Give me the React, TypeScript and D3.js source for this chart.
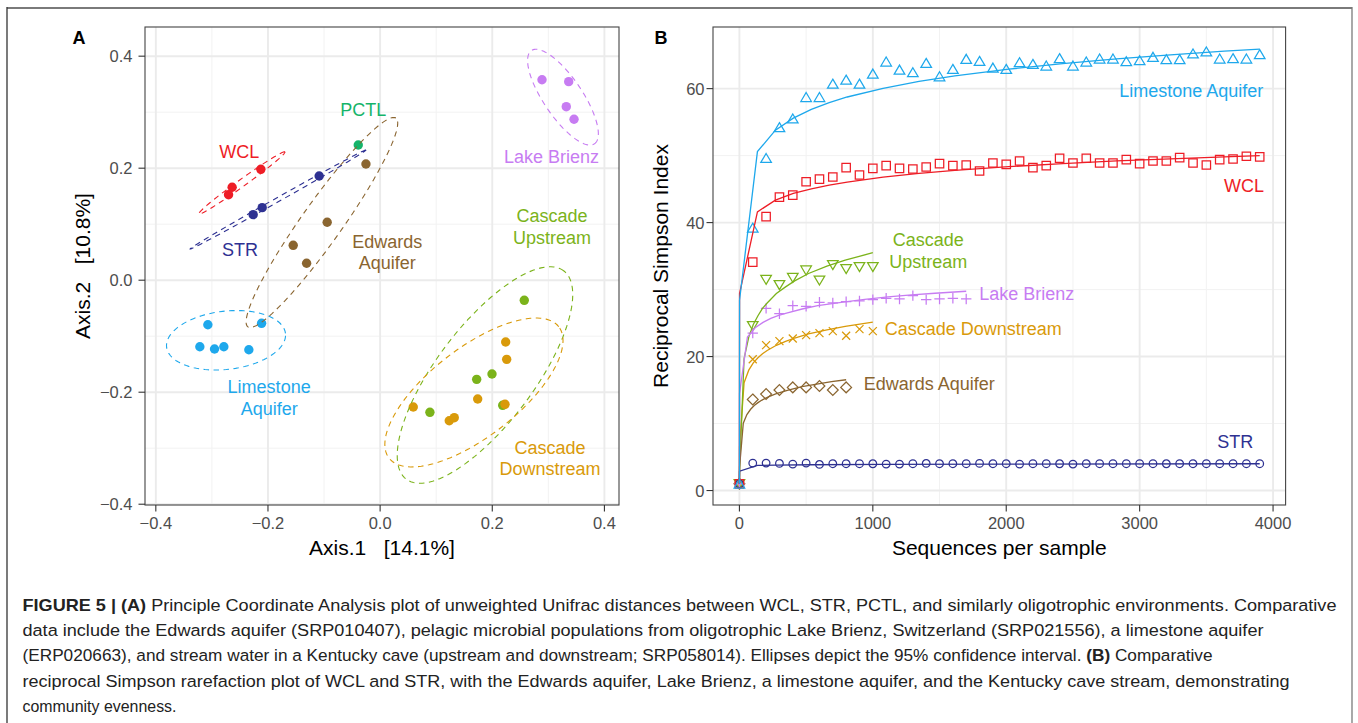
import React from 'react';
import * as d3 from 'd3';

// ---------------- Panel A: PCoA data ----------------
const groupsA = ['Limestone Aquifer', 'Edwards Aquifer', 'WCL', 'STR', 'PCTL', 'Lake Brienz', 'Cascade Upstream', 'Cascade Downstream'];
const colorsA = ['#1EA8EC', '#8A6530', '#EE1D26', '#2E3192', '#14B46A', '#C77CF2', '#7BB31A', '#D99A0A'];

const limestoneX = [-0.3072, -0.2114, -0.3215, -0.2953, -0.2787, -0.2341];
const limestoneY = [-0.0795, -0.077, -0.1188, -0.1229, -0.1188, -0.1241];
const edwardsX = [-0.0253, -0.0944, -0.155, -0.1311];
const edwardsY = [0.2075, 0.1034, 0.0623, 0.0302];
const wclX = [-0.2127, -0.2639, -0.2703];
const wclY = [0.198, 0.1659, 0.1527];
const strX = [-0.1087, -0.2103, -0.2264];
const strY = [0.1861, 0.1295, 0.117];
const pctlX = [-0.039];
const pctlY = [0.2414];
const brienzX = [0.2887, 0.3363, 0.332, 0.3458];
const brienzY = [0.358, 0.3545, 0.3098, 0.2873];
const upX = [0.2571, 0.1722, 0.1995, 0.0888, 0.2186];
const upY = [-0.0359, -0.177, -0.1675, -0.2359, -0.2234];
const downX = [0.2239, 0.2257, 0.174, 0.0591, 0.1233, 0.1322, 0.2227];
const downY = [-0.1104, -0.1413, -0.2121, -0.2264, -0.2509, -0.2455, -0.2216];
const pointsXA = [limestoneX, edwardsX, wclX, strX, pctlX, brienzX, upX, downX];
const pointsYA = [limestoneY, edwardsY, wclY, strY, pctlY, brienzY, upY, downY];

// 95% ellipses (centre, semi-axes, rotation in degrees)
const ellGroups = ['Limestone Aquifer', 'Edwards Aquifer', 'WCL', 'STR', 'Lake Brienz', 'Cascade Upstream', 'Cascade Downstream'];
const ellColors = ['#1EA8EC', '#8A6530', '#EE1D26', '#2E3192', '#C77CF2', '#7BB31A', '#D99A0A'];
const ellCx = [-0.2748, -0.1038, -0.2466, -0.182, 0.3261, 0.187, 0.1673];
const ellCy = [-0.1073, 0.103, 0.1736, 0.1441, 0.3268, -0.1693, -0.2005];
const ellA = [0.1067, 0.2284, 0.0946, 0.18, 0.1005, 0.2331, 0.1915];
const ellB = [0.052, 0.036, 0.0065, 0.0037, 0.0346, 0.0869, 0.0791];
const ellAngle = [6.6, 54.7, 35.8, 29.4, -56, 53, 37.8];

// labels in panel A
const labelTextA = [['WCL'], ['PCTL'], ['STR'], ['Edwards', 'Aquifer'], ['Lake Brienz'], ['Cascade', 'Upstream'], ['Limestone', 'Aquifer'], ['Cascade', 'Downstream']];
const labelColA = ['#EE1D26', '#14B46A', '#2E3192', '#8A6530', '#C77CF2', '#7BB31A', '#1EA8EC', '#D99A0A'];
const labelXA = [-0.2514, -0.0302, -0.2501, 0.0127, 0.3058, 0.3065, -0.1979, 0.3029];
const labelYA = [0.2284, 0.3039, 0.0539, 0.0495, 0.2205, 0.095, -0.2104, -0.3184];

const majorA = [-0.4, -0.2, 0, 0.2, 0.4];
const minorA = [-0.3, -0.1, 0.1, 0.3];

// ---------------- Panel B: rarefaction data ----------------
const depth = [0, 100, 200, 300, 400, 500, 600, 700, 800, 900, 1000, 1100, 1200, 1300, 1400, 1500, 1600, 1700, 1800, 1900,
  2000, 2100, 2200, 2300, 2400, 2500, 2600, 2700, 2800, 2900, 3000, 3100, 3200, 3300, 3400, 3500, 3600, 3700, 3800, 3900];
const limestoneB = [1, 39.2, 49.6, 54.2, 55.5, 58.7, 58.7, 60.7, 61.3, 60.7, 62.2, 64.0, 62.8, 62.4, 63.8, 61.8, 62.9, 64.4, 64.1, 63.1,
  62.9, 63.9, 63.65, 63.4, 64.5, 63.4, 64.0, 64.45, 64.45, 64.05, 64.2, 64.7, 64.35, 64.35, 65.2, 65.5, 64.45, 64.5, 64.45, 65.1];
const wclB = [1, 34.1, 40.9, 43.8, 44.1, 46.1, 46.5, 46.8, 48.2, 47.1, 48.1, 48.5, 48.1, 48.0, 48.3, 48.8, 48.5, 48.6, 47.7, 48.9,
  48.7, 49.2, 48.2, 48.5, 49.6, 48.9, 49.6, 48.9, 48.9, 49.4, 48.8, 49.2, 49.2, 49.7, 48.9, 48.6, 49.4, 49.5, 49.9, 49.8];
const strB = [1, 4.1, 4.1, 4.05, 3.95, 4.1, 3.9, 4.0, 4.0, 4.0, 4.0, 3.95, 3.95, 4.0, 4.05, 4.0, 4.0, 4.0, 4.05, 4.0,
  4.0, 3.95, 4.0, 4.0, 4.0, 3.95, 4.0, 4.0, 4.0, 4.0, 4.0, 4.0, 4.0, 4.0, 4.0, 4.0, 4.0, 4.0, 4.0, 4.0];
const cascadeUpB = [1, 24.6, 31.5, 30.7, 31.8, 32.9, 31.4, 33.7, 33.1, 33.4, 33.4];
const brienzB = [1, 23.5, 27.2, 26.4, 27.6, 27.5, 28.1, 28.0, 28.2, 28.3, 28.5, 28.7, 28.6, 29.1, 28.5, 28.6, 28.7, 28.6];
const cascadeDownB = [1, 19.6, 21.7, 22.3, 22.7, 23.2, 23.5, 23.8, 23.1, 24.1, 23.8];
const edwardsB = [1, 13.6, 14.4, 15.0, 15.4, 15.4, 15.6, 15.0, 15.4];

// fitted rarefaction curves
const limestoneFitX = [0, 1, 135, 270, 404, 539, 673, 808, 1077, 1346, 1615, 2019, 2423, 2827, 3231, 3635, 3900];
const limestoneFitY = [1, 28.4, 50.6, 53.8, 55.6, 56.9, 57.9, 58.75, 60.05, 61.07, 61.9, 62.9, 63.74, 64.44, 65.05, 65.6, 65.9];
const wclFitX = [0, 1, 135, 270, 404, 539, 673, 808, 1077, 1346, 1615, 2019, 2423, 2827, 3231, 3635, 3900];
const wclFitY = [1, 29.4, 41.6, 43.35, 44.35, 45.05, 45.6, 46.05, 46.8, 47.35, 47.8, 48.35, 48.8, 49.2, 49.5, 49.8, 50.0];
const strFitX = [0, 1, 135, 270, 539, 1077, 2019, 3900];
const strFitY = [1, 2.9, 3.75, 3.8, 3.85, 3.9, 3.95, 4.0];
const upFitX = [0, 1, 35, 70, 104, 139, 173, 208, 277, 346, 414, 518, 656, 793, 1000];
const upFitY = [1, 2.8, 19.7, 22.9, 24.8, 26.1, 27.2, 28.0, 29.4, 30.4, 31.3, 32.4, 33.5, 34.4, 35.5];
const downFitX = [0, 1, 35, 70, 104, 139, 173, 208, 277, 346, 414, 518, 656, 793, 1000];
const downFitY = [1, 6.5, 16.1, 17.97, 19.05, 19.82, 20.42, 20.9, 21.68, 22.28, 22.77, 23.37, 24.0, 24.5, 25.15];
const brienzFitX = [0, 1, 60, 118, 177, 235, 294, 353, 470, 587, 763, 939, 1114, 1290, 1466, 1700];
const brienzFitY = [1, 14.5, 22.9, 24.3, 25.1, 25.7, 26.15, 26.5, 27.1, 27.6, 28.1, 28.55, 28.9, 29.2, 29.45, 29.75];
const edwardsFitX = [0, 1, 29, 56, 84, 111, 139, 166, 221, 277, 359, 469, 580, 690, 800];
const edwardsFitY = [1, 3.5, 10.04, 11.35, 12.13, 12.69, 13.12, 13.47, 14.03, 14.46, 14.97, 15.5, 15.9, 16.25, 16.54];

const seriesB = ['Cascade Downstream', 'Cascade Upstream', 'Edwards Aquifer', 'Lake Brienz', 'STR', 'WCL', 'Limestone Aquifer'];
const colorsB = ['#D99A0A', '#7BB31A', '#8A6530', '#C77CF2', '#2E3192', '#EE1D26', '#1EA8EC'];
const shapesB = ['cross', 'triDown', 'diamond', 'plus', 'circle', 'square', 'triUp'];
const valuesB = [cascadeDownB, cascadeUpB, edwardsB, brienzB, strB, wclB, limestoneB];
const fitXB = [downFitX, upFitX, edwardsFitX, brienzFitX, strFitX, wclFitX, limestoneFitX];
const fitYB = [downFitY, upFitY, edwardsFitY, brienzFitY, strFitY, wclFitY, limestoneFitY];

const labelTextB = [['Limestone Aquifer'], ['WCL'], ['Cascade', 'Upstream'], ['Lake Brienz'], ['Cascade Downstream'], ['Edwards Aquifer'], ['STR']];
const labelColB = ['#1EA8EC', '#EE1D26', '#7BB31A', '#C77CF2', '#D99A0A', '#8A6530', '#2E3192'];
const labelXB = [3387, 3782, 1416, 2154, 1753, 1423, 3717];
const labelYB = [59.7, 45.4, 35.75, 29.3, 24.1, 15.9, 7.3];

const majorXB = [0, 1000, 2000, 3000, 4000];
const minorXB = [500, 1500, 2500, 3500];
const majorYB = [0, 20, 40, 60];
const minorYB = [10, 30, 50];

const captionLines = [
  [['FIGURE 5 | (A)', true], [' Principle Coordinate Analysis plot of unweighted Unifrac distances between WCL, STR, PCTL, and similarly oligotrophic environments. Comparative', false]],
  [['data include the Edwards aquifer (SRP010407), pelagic microbial populations from oligotrophic Lake Brienz, Switzerland (SRP021556), a limestone aquifer', false]],
  [['(ERP020663), and stream water in a Kentucky cave (upstream and downstream; SRP058014). Ellipses depict the 95% confidence interval. ', false], ['(B)', true], [' Comparative', false]],
  [['reciprocal Simpson rarefaction plot of WCL and STR, with the Edwards aquifer, Lake Brienz, a limestone aquifer, and the Kentucky cave stream, demonstrating', false]],
  [['community evenness.', false]],
];
const captionWidths = [1314, 1241, 1190, 1267, 154];

// ---------------- layout ----------------
const W = 1358;
const H = 723;
const FONT = "'Liberation Sans', Arial, Helvetica, sans-serif";

const xA = d3.scaleLinear().domain([-0.4193, 0.426]).range([145, 619]);
const yA = d3.scaleLinear().domain([-0.4014, 0.4521]).range([505, 27]);
const xB = d3.scaleLinear().domain([-198, 4094]).range([713, 1285.6]);
const yB = d3.scaleLinear().domain([-2.16, 69.2]).range([505, 27]);

const fmtA = d3.format('.1f');

function ellipsePath(i: number) {
  const phi = (ellAngle[i] * Math.PI) / 180;
  const ts = d3.range(0, 121).map((k) => (k / 120) * 2 * Math.PI);
  const pts = ts.map((t) => {
    const ex = ellA[i] * Math.cos(t);
    const ey = ellB[i] * Math.sin(t);
    return [ellCx[i] + ex * Math.cos(phi) - ey * Math.sin(phi), ellCy[i] + ex * Math.sin(phi) + ey * Math.cos(phi)] as [number, number];
  });
  return d3.line<[number, number]>().x((d) => xA(d[0])).y((d) => yA(d[1]))(pts) || '';
}

function markerPath(shape: string, cx: number, cy: number) {
  switch (shape) {
    case 'triUp':
      return `M${cx},${cy - 4.8}L${cx + 5.3},${cy + 4.2}L${cx - 5.3},${cy + 4.2}Z`;
    case 'triDown':
      return `M${cx},${cy + 4.8}L${cx + 5.3},${cy - 4.2}L${cx - 5.3},${cy - 4.2}Z`;
    case 'square':
      return `M${cx - 4.2},${cy - 4.2}h8.4v8.4h-8.4Z`;
    case 'diamond':
      return `M${cx},${cy - 5.4}L${cx + 5.4},${cy}L${cx},${cy + 5.4}L${cx - 5.4},${cy}Z`;
    case 'plus':
      return `M${cx - 5.2},${cy}H${cx + 5.2}M${cx},${cy - 5.2}V${cy + 5.2}`;
    case 'cross':
      return `M${cx - 4},${cy - 4}L${cx + 4},${cy + 4}M${cx - 4},${cy + 4}L${cx + 4},${cy - 4}`;
    default:
      return `M${cx - 3.8},${cy}a3.8,3.8 0 1,0 7.6,0a3.8,3.8 0 1,0 -7.6,0`;
  }
}

const tickCol = '#4D4D4D';
const gridMajor = '#EBEBEB';
const gridMinor = '#F2F2F2';

function PanelA() {
  const [x0, x1] = xA.range();
  const [y0, y1] = yA.range();
  return (
    <g>
      <rect x={x0} y={y1} width={x1 - x0} height={y0 - y1} fill="#fff" />
      {minorA.map((v) => (
        <g key={'mn' + v}>
          <line x1={xA(v)} x2={xA(v)} y1={y1} y2={y0} stroke={gridMinor} strokeWidth={1} />
          <line x1={x0} x2={x1} y1={yA(v)} y2={yA(v)} stroke={gridMinor} strokeWidth={1} />
        </g>
      ))}
      {majorA.map((v) => (
        <g key={'mj' + v}>
          <line x1={xA(v)} x2={xA(v)} y1={y1} y2={y0} stroke={gridMajor} strokeWidth={1.9} />
          <line x1={x0} x2={x1} y1={yA(v)} y2={yA(v)} stroke={gridMajor} strokeWidth={1.9} />
        </g>
      ))}
      {pointsXA.map((xs, gi) =>
        xs.map((xv, k) => (
          <circle key={gi + '-' + k} cx={xA(xv)} cy={yA(pointsYA[gi][k])} r={4.7} fill={colorsA[gi]} />
        ))
      )}
      {ellGroups.map((g, i) => (
        <path key={g} d={ellipsePath(i)} fill="none" stroke={ellColors[i]} strokeWidth={1.1} strokeDasharray="5.5 4.5" />
      ))}
      {labelTextA.map((lines, i) => (
        <text key={i} x={xA(labelXA[i])} y={yA(labelYA[i])} fill={labelColA[i]} fontSize={18} textAnchor="middle" dominantBaseline="central">
          {lines.map((ln, j) => (
            <tspan key={j} x={xA(labelXA[i])} dy={j === 0 ? (lines.length === 2 ? -10.8 : 0) : 21.6}>{ln}</tspan>
          ))}
        </text>
      ))}
      <rect x={x0} y={y1} width={x1 - x0} height={y0 - y1} fill="none" stroke="#444" strokeWidth={1.1} />
      {majorA.map((v) => (
        <g key={'tk' + v}>
          <line x1={xA(v)} x2={xA(v)} y1={y0} y2={y0 + 6.5} stroke="#333" strokeWidth={1.1} />
          <text x={xA(v)} y={523} fontSize={16.5} fill={tickCol} textAnchor="middle" dominantBaseline="central">{fmtA(v)}</text>
          <line x1={x0 - 6.5} x2={x0} y1={yA(v)} y2={yA(v)} stroke="#333" strokeWidth={1.1} />
          <text x={132.5} y={yA(v)} fontSize={16.5} fill={tickCol} textAnchor="end" dominantBaseline="central">{fmtA(v)}</text>
        </g>
      ))}
      <text x={(x0 + x1) / 2} y={547} fontSize={21} textAnchor="middle" dominantBaseline="central" fill="#000">{'Axis.1\u00a0\u00a0\u00a0[14.1%]'}</text>
      <text transform={`translate(82,${(y0 + y1) / 2}) rotate(-90)`} fontSize={21} textAnchor="middle" dominantBaseline="central" fill="#000">{'Axis.2\u00a0\u00a0\u00a0[10.8%]'}</text>
      <text x={79} y={37.5} fontSize={18} fontWeight="bold" textAnchor="middle" dominantBaseline="central" fill="#000">A</text>
    </g>
  );
}

function PanelB() {
  const [x0, x1] = xB.range();
  const [y0, y1] = yB.range();
  return (
    <g>
      <rect x={x0} y={y1} width={x1 - x0} height={y0 - y1} fill="#fff" />
      {minorXB.map((v) => (
        <line key={'mx' + v} x1={xB(v)} x2={xB(v)} y1={y1} y2={y0} stroke={gridMinor} strokeWidth={1} />
      ))}
      {minorYB.map((v) => (
        <line key={'my' + v} x1={x0} x2={x1} y1={yB(v)} y2={yB(v)} stroke={gridMinor} strokeWidth={1} />
      ))}
      {majorXB.map((v) => (
        <line key={'Mx' + v} x1={xB(v)} x2={xB(v)} y1={y1} y2={y0} stroke={gridMajor} strokeWidth={1.9} />
      ))}
      {majorYB.map((v) => (
        <line key={'My' + v} x1={x0} x2={x1} y1={yB(v)} y2={yB(v)} stroke={gridMajor} strokeWidth={1.9} />
      ))}
      {seriesB.map((s, si) => (
        <g key={'p' + s}>
          {valuesB[si].map((v, k) => (
            <path key={k} d={markerPath(shapesB[si], xB(depth[k]), yB(v))} fill="none" stroke={colorsB[si]} strokeWidth={1.25} />
          ))}
        </g>
      ))}
      {seriesB.map((s, si) => {
        const xs = fitXB[si];
        const ys = fitYB[si];
        const d = d3.line<number>().x((_, k) => xB(xs[k])).y((_, k) => yB(ys[k]))(xs) || '';
        return <path key={'l' + s} d={d} fill="none" stroke={colorsB[si]} strokeWidth={1.3} />;
      })}
      {labelTextB.map((lines, i) => (
        <text key={i} x={xB(labelXB[i])} y={yB(labelYB[i])} fill={labelColB[i]} fontSize={18} textAnchor="middle" dominantBaseline="central">
          {lines.map((ln, j) => (
            <tspan key={j} x={xB(labelXB[i])} dy={j === 0 ? (lines.length === 2 ? -11.1 : 0) : 22.2}>{ln}</tspan>
          ))}
        </text>
      ))}
      <rect x={x0} y={y1} width={x1 - x0} height={y0 - y1} fill="none" stroke="#444" strokeWidth={1.1} />
      {majorXB.map((v) => (
        <g key={'tx' + v}>
          <line x1={xB(v)} x2={xB(v)} y1={y0} y2={y0 + 6.5} stroke="#333" strokeWidth={1.1} />
          <text x={xB(v)} y={523} fontSize={16.5} fill={tickCol} textAnchor="middle" dominantBaseline="central">{String(v)}</text>
        </g>
      ))}
      {majorYB.map((v) => (
        <g key={'ty' + v}>
          <line x1={x0 - 6.5} x2={x0} y1={yB(v)} y2={yB(v)} stroke="#333" strokeWidth={1.1} />
          <text x={704.5} y={yB(v)} fontSize={16.5} fill={tickCol} textAnchor="end" dominantBaseline="central">{String(v)}</text>
        </g>
      ))}
      <text x={(x0 + x1) / 2} y={547} fontSize={21} textAnchor="middle" dominantBaseline="central" fill="#000">Sequences per sample</text>
      <text transform={`translate(660.5,${(y0 + y1) / 2}) rotate(-90)`} fontSize={21} textAnchor="middle" dominantBaseline="central" fill="#000">Reciprocal Simpson Index</text>
      <text x={661} y={37.5} fontSize={18} fontWeight="bold" textAnchor="middle" dominantBaseline="central" fill="#000">B</text>
    </g>
  );
}

function Caption() {
  return (
    <g>
      {captionLines.map((parts, i) => (
        <text
          key={i}
          x={22.5}
          y={611 + i * 25.2}
          fontSize={16.3}
          fill="#222"
          textLength={captionWidths[i]}
          lengthAdjust="spacingAndGlyphs"
        >
          {parts.map((p, j) => (
            <tspan key={j} fontWeight={p[1] ? 'bold' : 'normal'}>{p[0] as string}</tspan>
          ))}
        </text>
      ))}
    </g>
  );
}

export default function App() {
  return (
    <svg width={W} height={H} style={{ position: 'absolute', left: 0, top: 0, background: '#fff' }} fontFamily={FONT}>
      <rect x={0} y={0} width={W} height={H} fill="#fff" />
      <line x1={7} x2={1352} y1={8} y2={8} stroke="#7a7a7a" strokeWidth={2} />
      <line x1={7} x2={7} y1={7} y2={H} stroke="#333" strokeWidth={1.3} />
      <line x1={1352} x2={1352} y1={7} y2={H} stroke="#7a7a7a" strokeWidth={1.3} />
      <PanelA />
      <PanelB />
      <Caption />
    </svg>
  );
}
